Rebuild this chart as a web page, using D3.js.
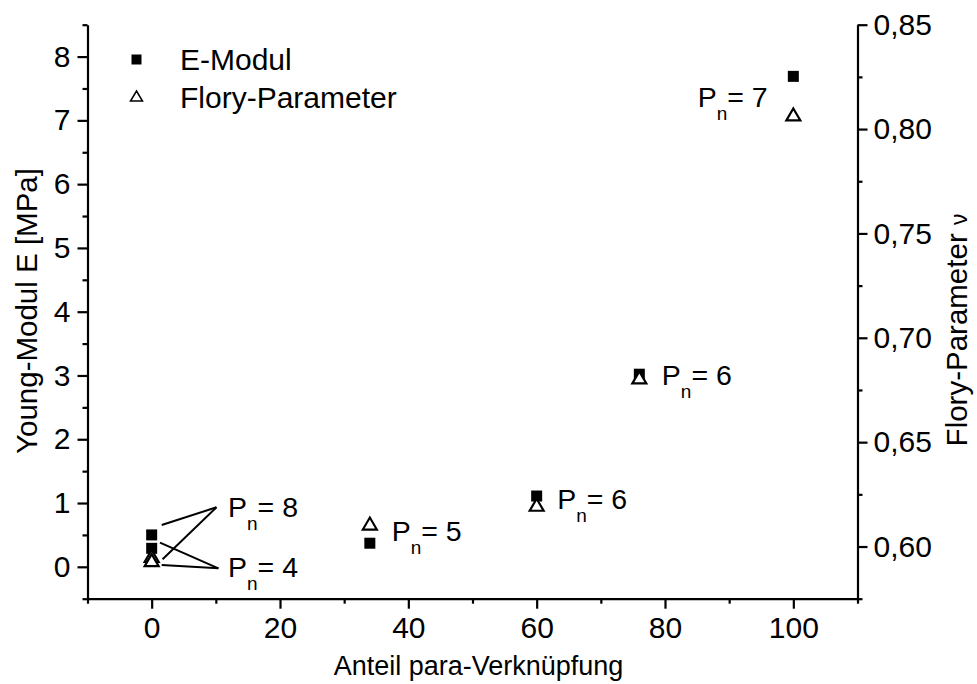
<!DOCTYPE html>
<html>
<head>
<meta charset="utf-8">
<script src="https://cdn.jsdelivr.net/npm/d3@7"></script>
<style>
  html, body { margin: 0; padding: 0; background: #fff; }
  svg { display: block; }
  text { font-family: "Liberation Sans", Arial, sans-serif; fill: #000; }
</style>
</head>
<body>
<svg id="chart" width="977" height="684"></svg>
<script>
// Share of para linkages (%) per sample
const paraShare = [0, 0, 34, 60, 76, 100];
// Young's modulus E in MPa (left axis)
const eModul = [0.50, 0.29, 0.37, 1.11, 3.02, 7.69];
// Flory exponent nu (right axis)
const floryNu = [0.5955, 0.5935, 0.611, 0.620, 0.681, 0.807];

// Axis ticks
const xTicks = [0, 20, 40, 60, 80, 100];
const xMinor = [-10, 10, 30, 50, 70, 90, 110];
const yLeftTicks = [0, 1, 2, 3, 4, 5, 6, 7, 8];
const yLeftMinor = [-0.5, 0.5, 1.5, 2.5, 3.5, 4.5, 5.5, 6.5, 7.5, 8.5];
const yRightTicks = [0.60, 0.65, 0.70, 0.75, 0.80, 0.85];
const yRightMinor = [0.575, 0.625, 0.675, 0.725, 0.775, 0.825];

// Degree of polymerisation labels, anchored in data units (x, E)
const pnLabels = [
  { n: "8", x: 11.9, e: 0.78 },
  { n: "4", x: 11.9, e: -0.16 },
  { n: "5", x: 37.4, e: 0.40 },
  { n: "6", x: 63.2, e: 0.91 },
  { n: "6", x: 79.5, e: 2.85 },
  { n: "7", x: 85.1, e: 7.21 }
];
// Leader lines from the two labels to the points at x = 0 (data units)
const leaders = [
  [[1.56, 0.655], [10.1, 0.933]],
  [[1.70, 0.118], [10.1, 0.933]],
  [[1.30, 0.378], [10.4, -0.024]],
  [[1.56, 0.028], [10.4, -0.024]]
];

const svg = d3.select("#chart");
const plotLeft = 87.5, plotRight = 857.5, plotTop = 24.7, plotBottom = 598.7;

const x = d3.scaleLinear().domain([-10, 110]).range([plotLeft, plotRight]);
const yL = d3.scaleLinear().domain([-0.5, 8.5]).range([plotBottom, plotTop]);
const yR = d3.scaleLinear().domain([0.575, 0.85]).range([plotBottom, plotTop]);

const tickFont = 30;
const comma = d => d3.format(".2f")(d).replace(".", ",");

function styleAxis(g) {
  g.selectAll("path.domain").attr("stroke", "#000").attr("stroke-width", 2.2);
  g.selectAll(".tick line").attr("stroke", "#000").attr("stroke-width", 2.2);
  g.selectAll(".tick text").style("font-size", tickFont + "px")
    .style("font-family", "'Liberation Sans', Arial, sans-serif").attr("fill", "#000");
}

// Bottom axis
svg.append("g").attr("transform", `translate(0,${plotBottom})`)
  .call(d3.axisBottom(x).tickValues(xMinor).tickSize(5).tickFormat("")).call(styleAxis)
  .select("path.domain").remove();
svg.append("g").attr("transform", `translate(0,${plotBottom})`)
  .call(d3.axisBottom(x).tickValues(xTicks).tickSize(10).tickSizeOuter(0).tickPadding(8)
    .tickFormat(d3.format("d"))).call(styleAxis);

// Left axis
svg.append("g").attr("transform", `translate(${plotLeft},0)`)
  .call(d3.axisLeft(yL).tickValues(yLeftMinor).tickSize(5).tickFormat("")).call(styleAxis)
  .select("path.domain").remove();
svg.append("g").attr("transform", `translate(${plotLeft},0)`)
  .call(d3.axisLeft(yL).tickValues(yLeftTicks).tickSize(10).tickSizeOuter(0).tickPadding(7)
    .tickFormat(d3.format("d"))).call(styleAxis);

// Right axis
svg.append("g").attr("transform", `translate(${plotRight},0)`)
  .call(d3.axisRight(yR).tickValues(yRightMinor).tickSize(5).tickFormat("")).call(styleAxis)
  .select("path.domain").remove();
svg.append("g").attr("transform", `translate(${plotRight},0)`)
  .call(d3.axisRight(yR).tickValues(yRightTicks).tickSize(10).tickSizeOuter(0).tickPadding(6)
    .tickFormat(comma)).call(styleAxis);

// Axis titles
svg.append("text").attr("x", (plotLeft + plotRight) / 2 + 6).attr("y", 675)
  .attr("text-anchor", "middle").style("font-size", "27px")
  .text("Anteil para-Verknüpfung");
svg.append("text").attr("transform", "translate(37,311) rotate(-90)")
  .attr("text-anchor", "middle").style("font-size", "29.5px")
  .text("Young-Modul E [MPa]");
const rt = svg.append("text").attr("transform", "translate(967,330) rotate(-90)")
  .attr("text-anchor", "middle").style("font-size", "29.5px");
rt.append("tspan").text("Flory-Parameter ");
rt.append("tspan").style("font-size", "23px").text("ν");

// Leader lines
svg.append("g").selectAll("line").data(leaders).join("line")
  .attr("x1", d => x(d[0][0])).attr("y1", d => yL(d[0][1]))
  .attr("x2", d => x(d[1][0])).attr("y2", d => yL(d[1][1]))
  .attr("stroke", "#000").attr("stroke-width", 2);

// Marker shapes
const sq = 11;
function triPath(cx, cy, w, h) {
  return `M${cx},${cy - h / 2}L${cx + w / 2},${cy + h / 2}L${cx - w / 2},${cy + h / 2}Z`;
}

// E-Modul squares
svg.append("g").selectAll("rect").data(paraShare).join("rect")
  .attr("x", (d) => x(d) - sq / 2)
  .attr("y", (d, i) => yL(eModul[i]) - sq / 2)
  .attr("width", sq).attr("height", sq).attr("fill", "#000");

// Flory-Parameter triangles
svg.append("g").selectAll("path").data(paraShare).join("path")
  .attr("d", (d, i) => triPath(x(d), yR(floryNu[i]), 14, 12))
  .attr("fill", "#fff").attr("stroke", "#000").attr("stroke-width", 2.2)
  .attr("stroke-linejoin", "miter");

// P_n labels
const lab = svg.append("g").selectAll("text").data(pnLabels).join("text")
  .attr("x", d => x(d.x)).attr("y", d => yL(d.e)).style("font-size", "28.5px");
lab.append("tspan").text("P");
lab.append("tspan").attr("dy", 13).style("font-size", "19px").text("n");
lab.append("tspan").attr("dy", -13).text(d => "= " + d.n);

// Legend
const legend = svg.append("g");
legend.append("rect").attr("x", 131.5).attr("y", 54.5).attr("width", 10).attr("height", 10).attr("fill", "#000");
legend.append("text").attr("x", 180).attr("y", 70).style("font-size", "30px").text("E-Modul");
legend.append("path").attr("d", triPath(136.5, 96, 12, 10))
  .attr("fill", "#fff").attr("stroke", "#000").attr("stroke-width", 1.5);
legend.append("text").attr("x", 180).attr("y", 107.5).style("font-size", "30px").text("Flory-Parameter");
</script>
</body>
</html>
